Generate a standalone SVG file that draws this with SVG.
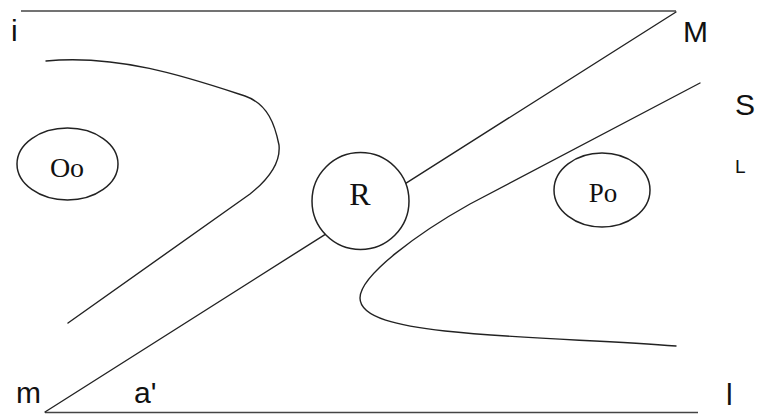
<svg xmlns="http://www.w3.org/2000/svg" width="758" height="414" viewBox="0 0 758 414">
<style>
.ln{fill:none;stroke:#222;stroke-width:1.4;stroke-linecap:round;stroke-linejoin:round}
.hz{fill:none;stroke:#444;stroke-width:1.6}
.nd{fill:#fff;stroke:#222;stroke-width:1.5}
.lbl{font-family:"Liberation Sans",Arial,sans-serif;fill:#111}
.nt{font-family:"Liberation Serif","Times New Roman",serif;fill:#111;text-anchor:middle}
</style>
<rect width="758" height="414" fill="#fff"/>
<g id="connectors">
<line class="hz" x1="21" y1="11" x2="676" y2="11"/>
<line class="hz" x1="45" y1="412.5" x2="698" y2="412.5"/>
<line class="ln" x1="676" y1="12" x2="405.7" y2="183.3"/>
<line class="ln" x1="325.3" y1="234.3" x2="45" y2="412"/>
<path class="ln" d="M46,61 C120,54 190,78 245,96 C268,104 275,125 279,145 C281,165 265,182 250,194 L68,323"/>
<path class="ln" d="M700,83 L470,204 C420,232 360,275 360,298 C360,318 400,326 445,331 C520,339 600,340 676,346"/>
</g>
<g id="node-R">
<circle class="nd" cx="360.5" cy="201" r="48.5"/>
<text class="nt" x="360" y="205" font-size="32">R</text>
</g>
<g id="node-Oo">
<ellipse class="nd" cx="67.5" cy="164" rx="50.5" ry="36"/>
<text class="nt" x="67" y="177" font-size="28">Oo</text>
</g>
<g id="node-Po">
<ellipse class="nd" cx="602" cy="190" rx="48" ry="37"/>
<text class="nt" x="603" y="202" font-size="27">Po</text>
</g>
<g id="labels">
<text class="lbl" x="11" y="41" font-size="30">i</text>
<text class="lbl" x="683" y="42" font-size="30">M</text>
<text class="lbl" x="735" y="115" font-size="30">S</text>
<text class="lbl" x="735" y="173" font-size="19">L</text>
<text class="lbl" x="16" y="403" font-size="30">m</text>
<text class="lbl" x="134" y="403" font-size="30">a'</text>
<text class="lbl" x="726" y="405" font-size="30">l</text>
</g>
</svg>
